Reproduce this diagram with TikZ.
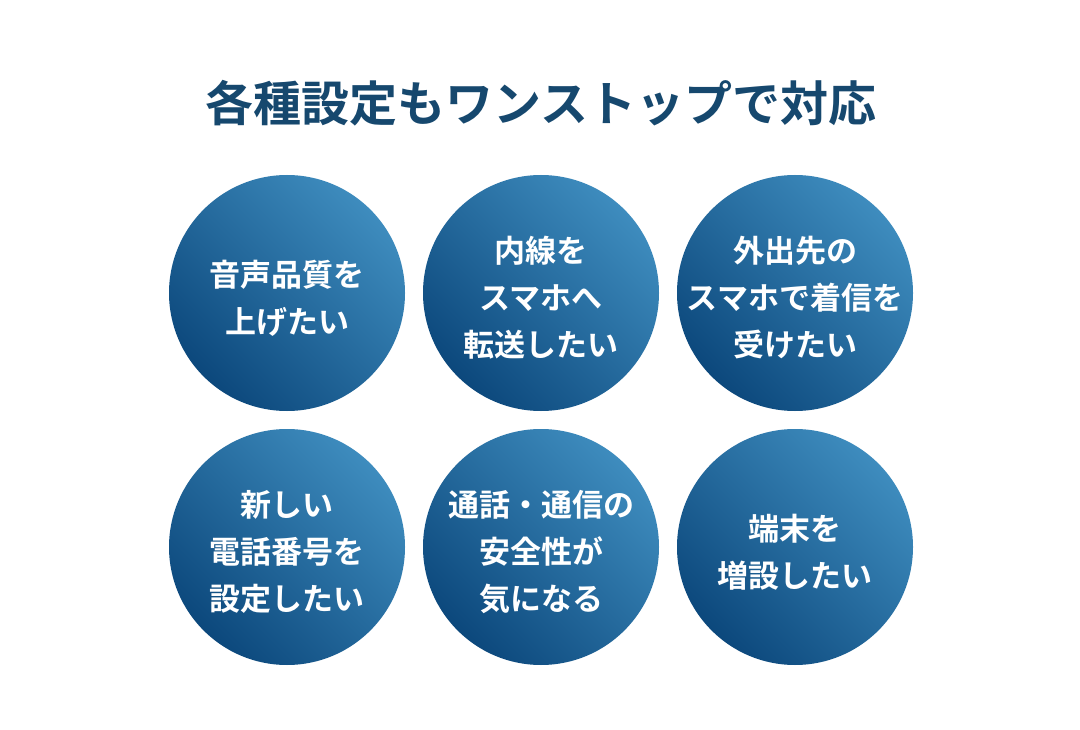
\documentclass[tikz,border=0pt]{standalone}
\usepackage{fontspec}
\newfontfamily\cjk{Noto Sans CJK JP}[BoldFont={* Bold}]
\begin{document}
\begin{tikzpicture}[x=1pt,y=-1pt,
  lbl/.style={font=\cjk\bfseries\fontsize{31}{47}\selectfont,text=white,align=center,yshift=-5pt}]
\useasboundingbox (0,0) rectangle (1080,730);
\fill[white] (0,0) rectangle (1080,730);
\node[font=\cjk\bfseries\fontsize{48}{52}\selectfont,text={rgb,255:red,22;green,72;blue,110}] (title) at (541,103) {各種設定もワンストップで対応};
\definecolor{cl}{RGB}{62,140,190}
\definecolor{cd}{RGB}{12,72,124}
\foreach \x/\y/\n in {287/293/a,541/293/b,795/293/c,287/547/d,541/547/e,795/547/f}{
  \shade[left color=cl,right color=cd,shading angle=-45] (\x,\y) circle (118);
  \coordinate (\n) at (\x,\y);
}
\node[lbl] at (a) {音声品質を\\上げたい};
\node[lbl] at (b) {内線を\\スマホへ\\転送したい};
\node[lbl] at (c) {外出先の\\スマホで着信を\\受けたい};
\node[lbl] at (d) {新しい\\電話番号を\\設定したい};
\node[lbl] at (e) {通話・通信の\\安全性が\\気になる};
\node[lbl] at (f) {端末を\\増設したい};
\end{tikzpicture}
\end{document}
